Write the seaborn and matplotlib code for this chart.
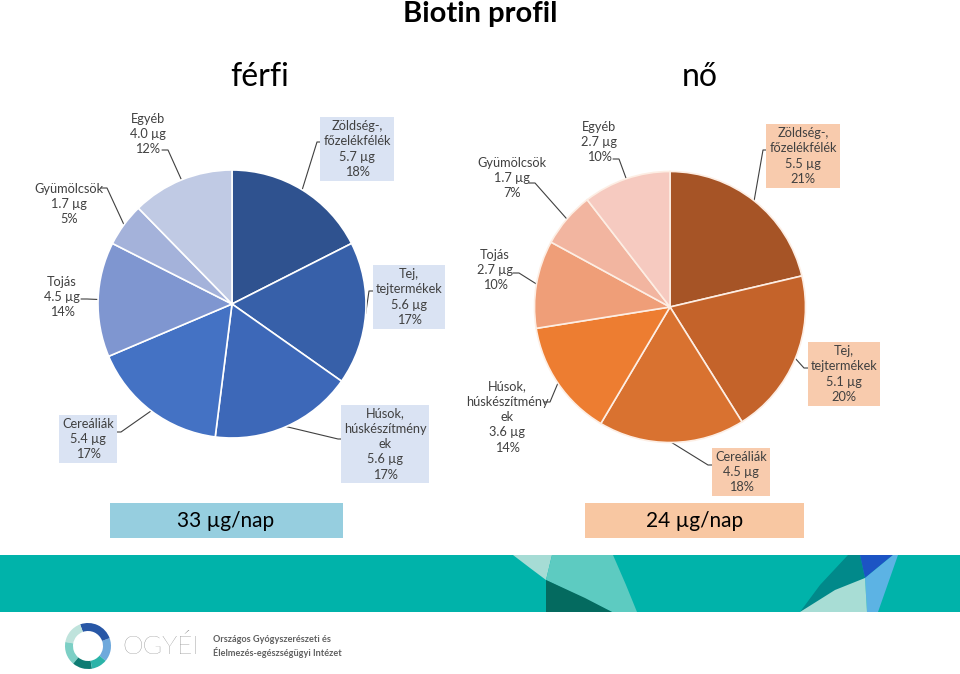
import numpy as np
import matplotlib
matplotlib.use("Agg")
import matplotlib.pyplot as plt
import seaborn as sns
from matplotlib.patches import Polygon, Rectangle, Wedge

# --- adatok (a kép alapján leolvasva) ---
ferfi_kategoriak = ["Zöldség-,\nfőzelékfélék", "Tej,\ntejtermékek", "Húsok,\nhúskészítmény\nek",
                    "Cereáliák", "Tojás", "Gyümölcsök", "Egyéb"]
ferfi_ertekek = [5.7, 5.6, 5.6, 5.4, 4.5, 1.7, 4.0]
ferfi_szazalek = [18, 17, 17, 17, 14, 5, 12]
ferfi_osszes = "33 µg/nap"

no_kategoriak = ["Zöldség-,\nfőzelékfélék", "Tej,\ntejtermékek", "Cereáliák",
                 "Húsok,\nhúskészítmény\nek", "Tojás", "Gyümölcsök", "Egyéb"]
no_ertekek = [5.5, 5.1, 4.5, 3.6, 2.7, 1.7, 2.7]
no_szazalek = [21, 20, 18, 14, 10, 7, 10]
no_osszes = "24 µg/nap"

# --- stílus ---
ferfi_szinek = ["#2F528F", "#3760A9", "#3D68B8", "#4472C4", "#7F96D0", "#A4B2DA", "#C0CAE4"]
no_szinek = ["#A65426", "#C4632A", "#D97230", "#ED7D31", "#EF9E78", "#F2B5A0", "#F6CAC0"]

# címke elrendezés: (középpont), keretes?, vezetővonal kezdete, csonk iránya
ferfi_cimkek = [
    ((357, 149), True, (323, 142), -6),
    ((409, 297), True, (375, 291), -6),
    ((385, 444), True, (344, 439), -6),
    ((88, 439), True, (115, 432), 6),
    ((62, 297), False, (81, 299), 6),
    ((69, 204), False, (101, 188), 6),
    ((148, 134), False, (162, 150), 6),
]
no_cimkek = [
    ((803, 156), True, (769, 150), -6),
    ((844, 374), True, (810, 368), -6),
    ((741, 472), True, (714, 465), -6),
    ((507, 417), False, (544, 402), 6),
    ((495, 270), False, (513, 273), 6),
    ((512, 178), False, (529, 183), 6),
    ((599, 142), False, (613, 159), 6),
]

sns.set_theme(style="white")
plt.rcParams["font.family"] = ["Lato", "DejaVu Sans"]

W, H = 960, 674
fig = plt.figure(figsize=(9.6, 6.74), dpi=100)
fig.patch.set_facecolor("white")

# háttér tengely pixel koordinátákkal
bg = fig.add_axes([0, 0, 1, 1])
bg.set_xlim(0, W)
bg.set_ylim(H, 0)
bg.axis("off")

szoveg_szin = "#404040"


def tortadiagram(cx, cy, r, ertekek, szinek, el_szin):
    ax = fig.add_axes([(cx - r) / W, 1 - (cy + r) / H, 2 * r / W, 2 * r / H])
    wedges, _ = ax.pie(ertekek, colors=szinek, startangle=90, counterclock=False,
                       wedgeprops=dict(edgecolor=el_szin, linewidth=1.2))
    ax.set_xlim(-1, 1)
    ax.set_ylim(-1, 1)
    ax.axis("off")
    return ax, wedges


def cimkek(ax, wedges, kategoriak, ertekek, szazalek, elrendezes, doboz_szin):
    for w, kat, v, p, (poz, keret, start, dx) in zip(wedges, kategoriak, ertekek, szazalek, elrendezes):
        theta = np.deg2rad((w.theta1 + w.theta2) / 2)
        disp = ax.transData.transform((w.r * np.cos(theta), w.r * np.sin(theta)))
        ex, ey = bg.transData.inverted().transform(disp)
        bg.plot([start[0], start[0] + dx, ex], [start[1], start[1], ey],
                color=szoveg_szin, lw=0.8, zorder=2)
        bbox = dict(boxstyle="square,pad=0.22", fc=doboz_szin, ec="none") if keret else None
        bg.text(poz[0], poz[1], f"{kat}\n{v:.1f} µg\n{p}%", ha="center", va="center",
                multialignment="center", fontsize=9.2, linespacing=1.33,
                color=szoveg_szin, bbox=bbox, zorder=3)


ax1, w1 = tortadiagram(232, 304, 134, ferfi_ertekek, ferfi_szinek, "white")
cimkek(ax1, w1, ferfi_kategoriak, ferfi_ertekek, ferfi_szazalek, ferfi_cimkek, "#DAE3F3")

ax2, w2 = tortadiagram(670, 307, 135.5, no_ertekek, no_szinek, "#FDEEE4")
cimkek(ax2, w2, no_kategoriak, no_ertekek, no_szazalek, no_cimkek, "#F8CBAD")

# címek
bg.text(480, 14, "Biotin profil", ha="center", va="center", fontsize=21,
        fontweight="bold", color="black")
bg.text(260, 77, "férfi", ha="center", va="center", fontsize=23, color="black")
bg.text(700, 77, "nő", ha="center", va="center", fontsize=23, color="black")

# összesítő dobozok
bg.add_patch(Rectangle((110, 503), 233, 35, fc="#96CEDF", ec="none"))
bg.text(226, 521, ferfi_osszes, ha="center", va="center", fontsize=15, color="black")
bg.add_patch(Rectangle((585, 503), 219, 35, fc="#F8C7A2", ec="none"))
bg.text(695, 521, no_osszes, ha="center", va="center", fontsize=15, color="black")

# lábléc sáv
bg.add_patch(Rectangle((0, 555), W, 57, fc="#00B3AA", ec="none"))
dekor = [
    ([(513, 555), (552, 555), (546, 580), (530, 568)], "#A6DCD5"),
    ([(552, 555), (613, 555), (626, 585), (637, 612), (612, 612), (546, 580)], "#5DCBC1"),
    ([(546, 580), (585, 598), (612, 612), (546, 612)], "#046A5F"),
    ([(848, 555), (860, 555), (865, 578), (800, 612), (820, 585)], "#01898A"),
    ([(860, 555), (893, 555), (865, 578)], "#1C54C4"),
    ([(893, 555), (898, 555), (878, 612), (867, 612), (865, 578)], "#5CB3E4"),
    ([(800, 612), (835, 590), (865, 578), (867, 612)], "#A8DDD5"),
]
for pts, c in dekor:
    bg.add_patch(Polygon(pts, closed=True, fc=c, ec="none"))

# logó
gyuru = [(-40, 20, "#6FA9DC"), (20, 110, "#2857A6"), (110, 170, "#BFE3DC"),
         (170, 230, "#7CCFC5"), (230, 280, "#0E7C73"), (280, 320, "#2BB3A8")]
for t1, t2, c in gyuru:
    bg.add_patch(Wedge((88, 646), 23, -t2, -t1, width=8, fc=c, ec="none"))
bg.text(122, 647, "OGYÉI", ha="left", va="center", fontsize=19, fontweight="light",
        color="#6A6A6A")
bg.text(213, 640, "Országos Gyógyszerészeti és", ha="left", va="center", fontsize=6.6,
        fontweight="bold", color="#606060")
bg.text(213, 653, "Élelmezés-egészségügyi Intézet", ha="left", va="center", fontsize=6.6,
        fontweight="bold", color="#606060")

fig.savefig("out.png", dpi=100)
